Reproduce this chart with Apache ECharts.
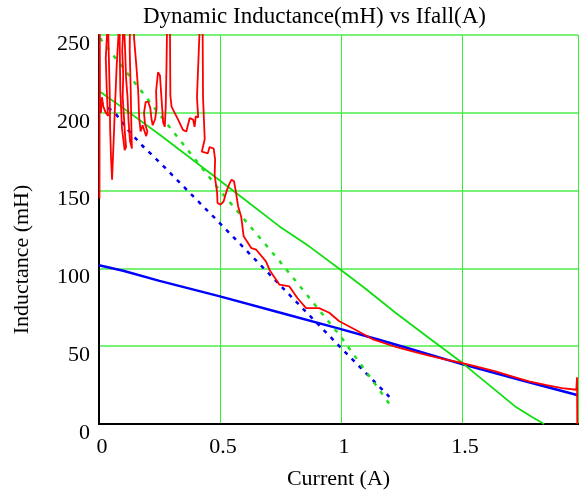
<!DOCTYPE html>
<html>
<head>
<meta charset="utf-8">
<script src="https://cdn.jsdelivr.net/npm/echarts@6/dist/echarts.min.js"></script>
<style>
  html, body { margin: 0; padding: 0; background: #fff; }
  #chart { width: 579px; height: 495px; }
</style>
</head>
<body>
<div id="chart"></div>
<script>
// tick labels
const xTicks = [0, 0.5, 1, 1.5];
const yTicks = [0, 50, 100, 150, 200, 250];

// blue solid
const blueSolid = [[0, 102], [0.1, 98.5], [0.25, 92], [0.5, 82], [0.75, 71.5], [1, 61],
  [1.15, 54.5], [1.25, 50], [1.5, 38.5], [1.75, 28], [1.98, 18.5]];

// green solid
const greenSolid = [[0, 214], [0.1, 203], [0.25, 186], [0.567, 148.5], [0.746, 127], [0.87, 114],
  [1, 99], [1.09, 88.4], [1.227, 71.3], [1.364, 55.3], [1.5, 39.5], [1.55, 33],
  [1.72, 11.3], [1.79, 4.5], [1.84, 0]];

// blue dashed
const blueDashed = [[0.004, 207], [0.066, 200], [0.12, 189], [0.175, 179.5], [0.258, 167],
  [0.5, 129], [0.75, 89], [1, 49], [1.2, 17.5]];

// green dashed
const greenDashed = [[0.004, 248], [0.25, 199], [0.5, 150], [0.75, 104], [1, 56], [1.2, 13]];

// red measured curve (noisy), from high current to low
const redCurve = [
  [1.977, 0], [1.976, 30], [1.973, 22], [1.969, 22], [1.914, 23.1], [1.85, 25], [1.777, 27.4],
  [1.70, 31], [1.639, 33.8], [1.57, 36.5], [1.502, 39.2], [1.43, 41.5], [1.364, 43.9],
  [1.30, 46.5], [1.227, 49.5], [1.13, 54.6], [1.06, 60.6], [0.993, 66], [0.952, 71.5],
  [0.91, 74.5], [0.856, 74.5], [0.82, 81], [0.787, 88.4], [0.746, 89.5], [0.705, 99],
  [0.69, 104.5], [0.65, 112], [0.63, 113], [0.598, 120.6], [0.588, 133], [0.575, 140],
  [0.565, 150], [0.558, 156], [0.548, 157], [0.538, 154], [0.528, 150], [0.515, 143],
  [0.502, 141], [0.49, 142], [0.488, 149], [0.478, 160], [0.48, 170], [0.474, 177],
  [0.457, 178], [0.45, 174], [0.425, 175], [0.437, 183], [0.43, 210], [0.428, 262],
  [0.418, 262], [0.405, 210], [0.41, 197], [0.40, 197.7], [0.395, 191], [0.389, 195.6],
  [0.375, 196.7], [0.361, 188], [0.347, 189], [0.327, 195.6], [0.306, 202], [0.3, 204],
  [0.295, 211], [0.293, 262],
  [0.282, 262], [0.279, 230], [0.276, 205], [0.272, 191], [0.265, 194], [0.258, 210],
  [0.252, 224], [0.244, 226], [0.236, 214], [0.238, 203], [0.232, 196], [0.222, 192],
  [0.217, 196], [0.212, 203], [0.204, 207], [0.193, 207], [0.186, 200], [0.19, 193],
  [0.2, 188], [0.195, 185], [0.18, 192], [0.172, 188], [0.169, 188],
  [0.166, 197], [0.162, 214], [0.155, 229], [0.145, 248], [0.143, 262],
  [0.128, 262], [0.127, 240], [0.131, 215], [0.134, 190], [0.136, 177],
  [0.128, 182], [0.122, 195], [0.118, 210], [0.112, 222], [0.108, 240], [0.104, 255], [0.103, 262],
  [0.098, 262], [0.096, 240], [0.1, 225], [0.098, 210], [0.104, 195], [0.108, 185], [0.112, 178],
  [0.106, 176], [0.095, 190], [0.088, 215], [0.086, 240], [0.085, 262],
  [0.078, 262], [0.073, 230], [0.065, 200], [0.06, 180], [0.056, 165], [0.054, 157],
  [0.05, 170], [0.046, 190], [0.044, 215], [0.04, 240], [0.037, 262],
  [0.03, 262], [0.028, 235], [0.032, 215], [0.036, 200], [0.038, 198],
  [0.028, 200], [0.018, 204], [0.012, 210], [0.008, 200], [0.004, 206], [0.003, 262],
  [0.002, 262], [0.002, 145]
];

const serif = '"Liberation Serif", "Times New Roman", serif';

const option = {
  backgroundColor: '#fff',
  animation: false,
  title: {
    text: 'Dynamic Inductance(mH) vs Ifall(A)',
    left: 138,
    top: 0,
    textStyle: { fontFamily: serif, fontSize: 23, fontWeight: 'normal', color: '#000' }
  },
  grid: { left: 99, right: 1, top: 35, bottom: 71, containLabel: false },
  xAxis: [{
    type: 'value',
    min: 0,
    max: 1.98,
    interval: 0.5,
    name: 'Current (A)',
    nameLocation: 'middle',
    nameGap: 44,
    nameTextStyle: { fontFamily: serif, fontSize: 22, color: '#000' },
    axisLine: { show: true, onZero: false, lineStyle: { color: '#000', width: 2 } },
    axisTick: { show: false },
    axisLabel: {
      fontFamily: serif, fontSize: 22, color: '#000', margin: 12,
      showMaxLabel: false, padding: [0, 0, 0, 6],
      formatter: v => (xTicks.indexOf(v) >= 0 ? String(v) : '')
    },
    splitLine: { show: true, lineStyle: { color: '#33ee33', width: 1 } }
  }, {
    type: 'value',
    position: 'top',
    min: 0,
    max: 1.98,
    axisLine: { show: true, lineStyle: { color: '#000', width: 2 } },
    axisTick: { show: false },
    axisLabel: { show: false },
    splitLine: { show: false }
  }],
  yAxis: {
    type: 'value',
    min: 0,
    max: 250,
    interval: 50,
    name: 'Inductance (mH)',
    nameLocation: 'middle',
    nameGap: 66,
    nameTextStyle: { fontFamily: serif, fontSize: 22, color: '#000', padding: [0, 60, 0, 0] },
    axisLine: { show: true, onZero: false, lineStyle: { color: '#000', width: 2 } },
    axisTick: { show: false },
    axisLabel: {
      fontFamily: serif, fontSize: 22, color: '#000', margin: 9,
      verticalAlign: 'top', lineHeight: 18,
      formatter: v => (yTicks.indexOf(v) >= 0 ? String(v) : '')
    },
    splitLine: { show: true, lineStyle: { color: '#77f277', width: 2 } }
  },
  series: [
    {
      type: 'line', data: blueSolid, showSymbol: false, z: 2,
      lineStyle: { color: '#0000ff', width: 2.5 }
    },
    {
      type: 'line', data: greenSolid, showSymbol: false, z: 2,
      lineStyle: { color: '#11dd11', width: 1.8 }
    },
    {
      type: 'line', data: blueDashed, showSymbol: false, z: 3,
      lineStyle: { color: '#0000ee', width: 2.5, type: [4, 6] }
    },
    {
      type: 'line', data: greenDashed, showSymbol: false, z: 3,
      lineStyle: { color: '#22dd22', width: 2.5, type: [4, 7] }
    },
    {
      type: 'line', data: redCurve, showSymbol: false, z: 4,
      lineStyle: { color: '#ff0000', width: 1.8 }
    }
  ]
};

const chart = echarts.init(document.getElementById('chart'));
chart.setOption(option);
</script>
</body>
</html>
